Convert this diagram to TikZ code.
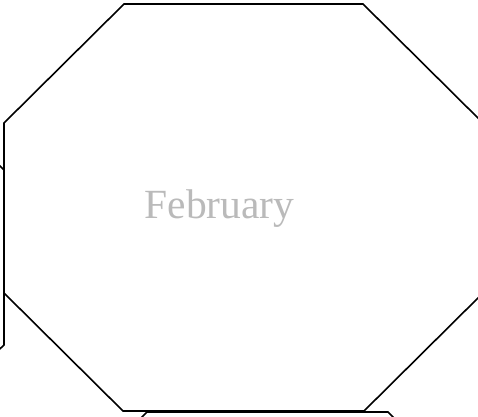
\documentclass[tikz,border=0pt]{standalone}
\usepackage{fontspec}
\setmainfont{Liberation Serif}
\begin{document}
\begin{tikzpicture}[x=1pt,y=-1pt,
  octo/.style={draw=black,line width=1.6pt,line join=miter},
  label/.style={text=black!27,font=\fontsize{41.5}{48}\selectfont,inner sep=0pt,anchor=base}]
\useasboundingbox (0,0) rectangle (478,416);
\clip (0,0) rectangle (478,416);
% main octagon
\draw[octo] (124,4) -- (363,4) -- (483,123) -- (483,293) -- (364,411) -- (123,411) -- (4,293) -- (4,123) -- cycle;
% neighbouring octagon on the left
\begin{scope}[shift={(-479,47)}]
\draw[octo] (124,4) -- (363,4) -- (483,123) -- (483,298) -- (364,411) -- (123,411) -- (4,293) -- (4,123) -- cycle;
\end{scope}
% neighbouring octagon below
\begin{scope}[shift={(23,408)}]
\draw[octo] (124,4) -- (365,4) -- (483,123) -- (483,293) -- (364,411) -- (123,411) -- (4,293) -- (4,123) -- cycle;
\end{scope}
\node[label] (feb) at (219.5,218) {February};
\end{tikzpicture}
\end{document}
